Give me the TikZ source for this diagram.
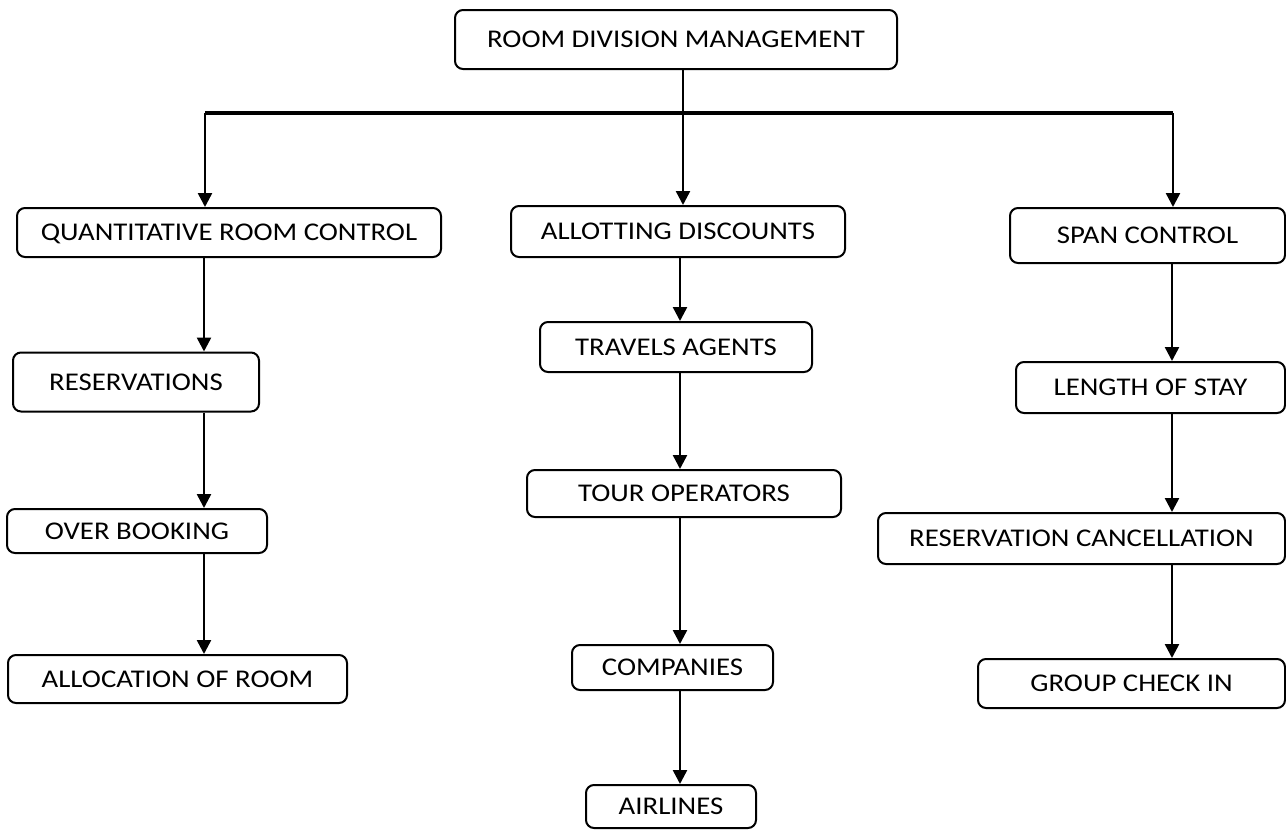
\documentclass[tikz,border=0pt]{standalone}
\usepackage{fontspec}
\setmainfont{Carlito}[FakeStretch=1.13]
\usetikzlibrary{arrows.meta}
\tikzset{
  box/.style={draw=black, line width=2pt, rounded corners=8pt, fill=white,
    inner sep=0pt, align=center, text height=16.4pt, text depth=0pt,
    font=\fontsize{25.5pt}{29pt}\selectfont},
  arr/.style={line width=2.5pt, -{Triangle[length=14pt,width=14pt]}},
  bus/.style={line width=3.4pt},
  stem/.style={line width=1.3pt}
}
\newcommand{\bx}[6]{\node[box, minimum width=#4pt, minimum height=#5pt] (#1) at (#2pt,-#3pt) {#6};}
\begin{document}
\begin{tikzpicture}[x=1pt,y=1pt]
\useasboundingbox[fill=white] (0,0) rectangle (1286,-831);
% nodes: name, cx, cy, w, h, text
\bx{root}{676}{39.5}{442}{59}{ROOM DIVISION MANAGEMENT}
\bx{qrc}{229}{232.5}{424}{49}{QUANTITATIVE ROOM CONTROL}
\bx{res}{136}{382}{246}{59}{RESERVATIONS}
\bx{over}{137}{531}{260}{44}{OVER BOOKING}
\bx{alloc}{177.5}{679}{339}{48}{ALLOCATION OF ROOM}
\bx{allot}{678}{231.5}{334}{51}{ALLOTTING DISCOUNTS}
\bx{trav}{676}{347}{272}{50}{TRAVELS AGENTS}
\bx{tour}{684}{493.5}{314}{47}{TOUR OPERATORS}
\bx{comp}{672.5}{667.5}{201}{45}{COMPANIES}
\bx{air}{671}{806.5}{170}{43}{AIRLINES}
\bx{span}{1147.5}{235.5}{275}{55}{SPAN CONTROL}
\bx{los}{1150.5}{387.5}{269}{51}{LENGTH OF STAY}
\bx{rc}{1081.5}{538.5}{407}{51}{RESERVATION CANCELLATION}
\bx{gci}{1131.5}{683.5}{307}{49}{GROUP CHECK IN}
% bus coordinates
\coordinate (busL) at (205,-113);
\coordinate (busM) at (683,-113);
\coordinate (busR) at (1173,-113);
\coordinate (xL) at (204,0);
\coordinate (xM) at (680,0);
\coordinate (xR) at (1172,0);
% connectors
\draw[stem] (root.south -| busM) -- (busM);
\draw[bus] (busL) -- (busR);
\draw[arr] (busL) -- (qrc.north -| busL);
\draw[arr] (busM) -- (allot.north -| busM);
\draw[arr] (busR) -- (span.north -| busR);
\draw[arr] (qrc.south -| xL) -- (res.north -| xL);
\draw[arr] (res.south -| xL) -- (over.north -| xL);
\draw[arr] (over.south -| xL) -- (alloc.north -| xL);
\draw[arr] (allot.south -| xM) -- (trav.north -| xM);
\draw[arr] (trav.south -| xM) -- (tour.north -| xM);
\draw[arr] (tour.south -| xM) -- (comp.north -| xM);
\draw[arr] (comp.south -| xM) -- (air.north -| xM);
\draw[arr] (span.south -| xR) -- (los.north -| xR);
\draw[arr] (los.south -| xR) -- (rc.north -| xR);
\draw[arr] (rc.south -| xR) -- (gci.north -| xR);
\end{tikzpicture}
\end{document}
